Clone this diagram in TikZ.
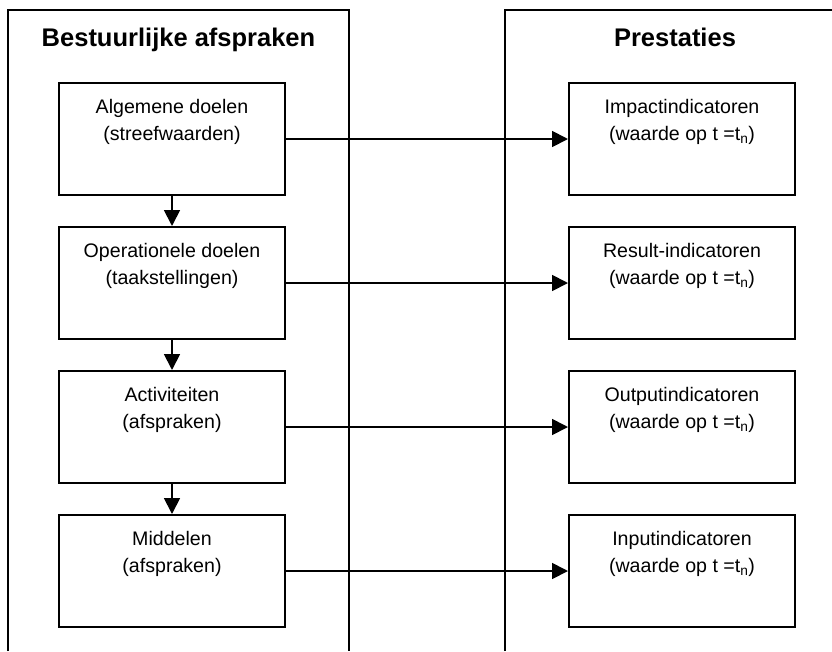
\documentclass[tikz,border=0pt]{standalone}
\usepackage{fontspec}
\setmainfont{Liberation Sans}
\usetikzlibrary{arrows.meta,positioning}
\begin{document}
\begin{tikzpicture}[x=1pt,y=-1pt,
  frame/.style={line width=2pt},
  stepbox/.style={draw,line width=2pt,minimum width=226pt,minimum height=112pt,inner sep=0pt,anchor=north west},
  boxtext/.style={anchor=north,align=center,inner sep=0pt,font=\fontsize{19.6}{27}\selectfont},
  heading/.style={anchor=base,inner sep=0pt,font=\fontsize{25.5}{30}\selectfont\bfseries},
  link/.style={line width=1.8pt,-{Triangle[length=16pt,width=16pt]}}]
\useasboundingbox (0,0) rectangle (832,651);

% open column frames
\draw[frame] (8,651) -- (8,10) -- (349,10) -- (349,651);
\draw[frame] (505,651) -- (505,10) -- (840,10);

\node[heading] (hleft) at (178.5,46) {Bestuurlijke afspraken};
\node[heading] (hright) at (675,46) {Prestaties};

% left column: agreements
\node[stepbox] (b1) at (58,82) {};
\node[stepbox] (b2) at (58,226) {};
\node[stepbox] (b3) at (58,370) {};
\node[stepbox] (b4) at (58,514) {};

% right column: indicators
\node[stepbox] (r1) at (568,82) {};
\node[stepbox] (r2) at (568,226) {};
\node[stepbox] (r3) at (568,370) {};
\node[stepbox] (r4) at (568,514) {};

\node[boxtext,below=17pt of b1.north] (t1) {Algemene doelen\\(streefwaarden)};
\node[boxtext,below=17pt of b2.north] (t2) {Operationele doelen\\(taakstellingen)};
\node[boxtext,below=17pt of b3.north] (t3) {Activiteiten\\(afspraken)};
\node[boxtext,below=17pt of b4.north] (t4) {Middelen\\(afspraken)};

\node[boxtext,below=17pt of r1.north] (u1) {Impactindicatoren\\(waarde op t =t\textsubscript{n})};
\node[boxtext,below=17pt of r2.north] (u2) {Result-indicatoren\\(waarde op t =t\textsubscript{n})};
\node[boxtext,below=17pt of r3.north] (u3) {Outputindicatoren\\(waarde op t =t\textsubscript{n})};
\node[boxtext,below=17pt of r4.north] (u4) {Inputindicatoren\\(waarde op t =t\textsubscript{n})};

% chain of agreements
\draw[link] (b1.south) -- (b2.north);
\draw[link] (b2.south) -- (b3.north);
\draw[link] (b3.south) -- (b4.north);

% agreement to indicator
\draw[link] (b1.east) -- (r1.west);
\draw[link] (b2.east) -- (r2.west);
\draw[link] (b3.east) -- (r3.west);
\draw[link] (b4.east) -- (r4.west);
\end{tikzpicture}
\end{document}
